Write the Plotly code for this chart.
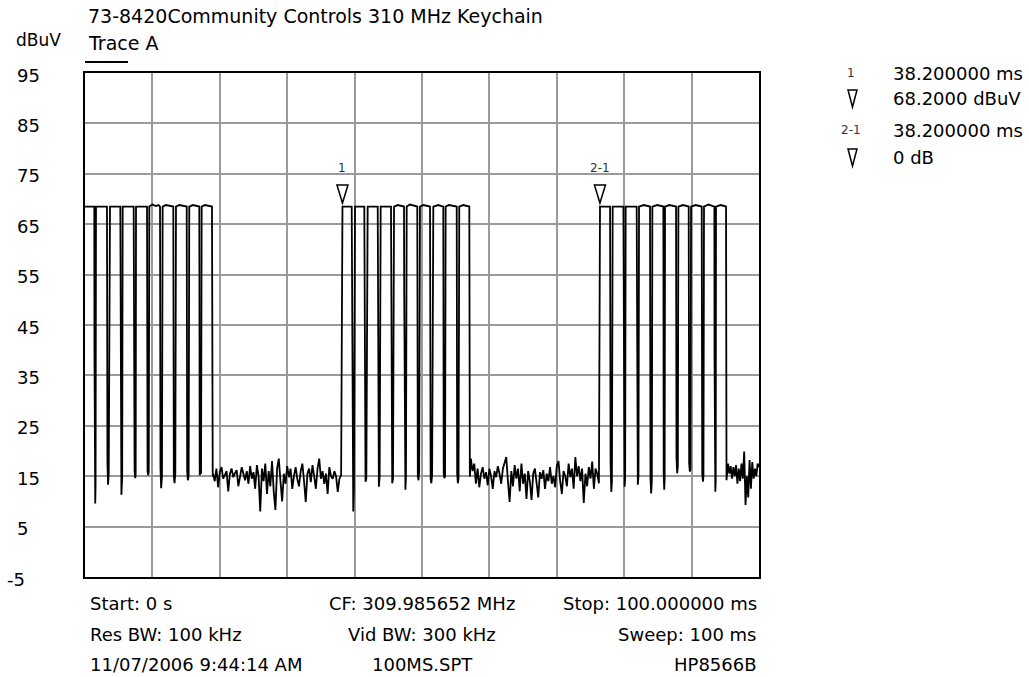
import numpy as np
import plotly.graph_objects as go

# ---------------- data ----------------
title_text = "73-8420Community Controls 310 MHz Keychain"
y_unit = "dBuV"
trace_name = "Trace A"
x_range_ms = [0, 100]
y_range_dbuv = [-5, 95]
y_ticks = [95, 85, 75, 65, 55, 45, 35, 25, 15, 5, -5]

# burst 1 (breakpoints, ms / dBuV)
burst1_ms = [0.00,
             1.38, 1.40, 1.46, 1.52, 1.57, 1.63,
             3.26, 3.33, 3.42, 3.52, 3.71,
             5.24, 5.30, 5.40, 5.52, 5.59,
             7.22, 7.26, 7.36, 7.46, 7.52, 7.57,
             9.20, 9.28, 9.36, 9.46, 9.54, 10.0, 10.5, 10.9,
             11.13, 11.20, 11.30, 11.42, 11.52, 12.0, 12.6,
             13.10, 13.18, 13.28, 13.40, 13.50, 14.0, 14.6,
             15.09, 15.16, 15.26, 15.38, 15.47, 16.0, 16.5,
             16.96, 17.02, 17.12, 17.22, 17.31, 17.8, 18.4,
             18.84, 18.95]
burst1_dbuv = [68.5,
               68.5, 40.4, 13.0, 9.6, 13.5, 68.5,
               68.5, 17.6, 13.3, 15.5, 68.5,
               68.5, 14.5, 11.3, 15.0, 68.5,
               68.5, 20.9, 16.0, 14.6, 15.5, 68.5,
               68.5, 16.0, 15.2, 15.8, 68.5, 68.9, 68.6, 68.8,
               68.5, 16.5, 12.6, 15.0, 68.5, 68.8, 68.6,
               68.5, 15.0, 13.6, 15.5, 68.5, 68.8, 68.6,
               68.5, 16.0, 14.2, 15.0, 68.5, 68.8, 68.6,
               68.5, 15.2, 15.8, 15.5, 68.5, 68.8, 68.7,
               68.5, 14.9]

# noise floor between bursts, one reading every 0.25 ms
noise_step_ms = 0.25
noise1_start_ms = 19.0
noise1_dbuv = [15.5, 14.0, 16.5, 12.8, 15.8, 16.8, 14.5, 15.2, 16.0, 12.0,
               15.5, 16.5, 14.8, 15.6, 16.2, 13.0, 15.0, 16.8, 15.5, 14.2,
               16.0, 13.5, 17.0, 14.5, 15.8, 12.5, 17.2, 15.0, 8.0, 16.5,
               14.0, 17.5, 11.5, 16.0, 13.0, 18.0, 12.0, 8.3, 16.5, 18.5,
               14.0, 10.0, 15.5, 13.5, 17.0, 14.8, 16.5, 12.5, 15.0, 16.8,
               14.5, 13.0, 16.0, 17.5, 14.0, 9.9, 15.5, 16.5, 13.8, 17.2,
               15.0, 12.5, 16.5, 18.5, 14.5, 16.0, 13.5, 15.5, 11.5, 16.8,
               15.0, 14.5, 16.0, 15.0, 11.9, 14.5, 15.2]

burst2_ms = [38.20,
             39.57, 39.70, 39.80, 39.90, 40.06,
             41.44, 41.52, 41.62, 41.74, 41.94,
             43.43, 43.50, 43.60, 43.72, 43.87,
             45.40, 45.48, 45.58, 45.70, 45.85, 46.4,
             47.33, 47.36, 47.44, 47.54, 47.62, 47.73, 48.2, 48.8,
             49.30, 49.38, 49.48, 49.58, 49.70, 50.2, 50.8,
             51.19, 51.28, 51.38, 51.50, 51.68, 52.4,
             53.16, 53.22, 53.32, 53.42, 53.51, 54.0, 54.6,
             55.15, 55.22, 55.32, 55.42, 55.53, 56.1, 56.6,
             57.02, 57.10]
burst2_dbuv = [68.5,
               68.5, 14.0, 8.0, 12.5, 68.5,
               68.5, 15.5, 13.9, 14.5, 68.5,
               68.5, 17.6, 12.9, 15.0, 68.5,
               68.5, 15.0, 13.6, 14.5, 68.5, 68.8,
               68.5, 51.6, 14.0, 12.3, 15.0, 68.5, 68.9, 68.6,
               68.5, 15.0, 14.2, 16.0, 68.5, 68.8, 68.6,
               68.5, 14.5, 13.6, 15.2, 68.5, 68.8,
               68.5, 15.5, 14.6, 15.0, 68.5, 68.8, 68.6,
               68.5, 15.5, 13.6, 14.5, 68.5, 68.8, 68.6,
               68.5, 14.9]

noise2_start_ms = 57.25
noise2_dbuv = [18.5, 16.0, 17.5, 13.5, 16.5, 12.8, 15.5, 16.8, 14.5, 15.8,
               13.2, 16.5, 15.0, 12.5, 16.0, 14.8, 17.0, 15.5, 13.5, 16.5,
               17.5, 18.8, 14.0, 9.9, 16.0, 13.0, 17.2, 14.5, 16.5, 12.0,
               17.5, 13.5, 15.5, 10.5, 16.0, 14.0, 10.3, 15.5, 16.5, 13.0,
               10.8, 15.8, 14.5, 16.2, 12.5, 15.5, 14.0, 16.8, 13.5, 15.0,
               12.8, 17.0, 18.0, 14.0, 11.5, 16.0, 15.0, 13.0, 17.5, 14.8,
               16.5, 12.5, 18.8, 15.0, 17.0, 14.0, 16.5, 9.7, 15.5, 13.0,
               16.8, 14.5, 17.9, 12.5, 16.5, 15.5, 13.6]

burst3_ms = [76.41,
             77.90, 77.98, 78.08, 78.18, 78.29,
             79.88, 79.96, 80.06, 80.14, 80.22,
             81.85, 81.92, 82.02, 82.12, 82.20, 82.9,
             83.83, 83.90, 84.00, 84.10, 84.18, 84.9,
             85.81, 85.86, 85.94, 86.00, 86.06, 86.7,
             87.69, 87.76, 87.86, 87.96, 88.04, 88.7,
             89.57, 89.64, 89.74, 89.84, 89.92, 90.6,
             91.50, 91.58, 91.68, 91.76, 91.84, 92.5,
             93.38, 93.40, 93.46, 93.52, 93.58, 93.62, 94.3,
             95.11, 95.18]
burst3_dbuv = [68.5,
               68.5, 17.5, 11.9, 14.0, 68.5,
               68.5, 15.0, 12.9, 14.5, 68.5,
               68.5, 15.5, 13.3, 15.0, 68.5, 68.8,
               68.5, 14.5, 11.6, 14.0, 68.5, 68.8,
               68.5, 15.5, 12.3, 14.5, 68.5, 68.8,
               68.5, 18.5, 15.6, 17.0, 68.5, 68.8,
               68.5, 17.5, 15.9, 16.5, 68.5, 68.8,
               68.5, 15.5, 13.9, 15.0, 68.5, 68.9,
               68.5, 39.4, 14.5, 11.9, 14.0, 68.5, 68.8,
               68.5, 14.2]

noise3_step_ms = 0.2
noise3_start_ms = 95.4
noise3_dbuv = [17.5, 15.5, 17.0, 14.5, 16.8, 15.0, 17.2, 13.5, 16.5, 14.0,
               17.5, 14.5, 19.9, 9.3, 15.0, 10.8, 18.2, 12.5, 17.8, 14.5,
               16.5, 15.0, 17.5, 16.8]

# markers
marker_labels = ["1", "2-1"]
marker_ms = [38.2, 76.4]
marker_dbuv = [68.2, 68.2]
readout_time = ["38.200000 ms", "38.200000 ms"]
readout_value = ["68.2000 dBuV", "0 dB"]

footer_left = ["Start: 0 s", "Res BW: 100 kHz", "11/07/2006 9:44:14 AM"]
footer_mid = ["CF: 309.985652 MHz", "Vid BW: 300 kHz", "100MS.SPT"]
footer_right = ["Stop: 100.000000 ms", "Sweep: 100 ms", "HP8566B"]

# ---------------- assemble trace ----------------
noise1_ms = list(noise1_start_ms + noise_step_ms * np.arange(len(noise1_dbuv)))
noise2_ms = list(noise2_start_ms + noise_step_ms * np.arange(len(noise2_dbuv)))
noise3_ms = list(noise3_start_ms + noise3_step_ms * np.arange(len(noise3_dbuv)))

t_all = burst1_ms + noise1_ms + burst2_ms + noise2_ms + burst3_ms + noise3_ms
v_all = burst1_dbuv + noise1_dbuv + burst2_dbuv + noise2_dbuv + burst3_dbuv + noise3_dbuv

W, H = 1029, 677
L, R, T, B = 85, 270, 73, 100
PW, PH = W - L - R, H - T - B


def px_x(px):
    return (px - L) / PW


def px_y(py):
    return (H - B - py) / PH


FONT = "DejaVu Sans"

fig = go.Figure()
fig.add_trace(go.Scatter(x=t_all, y=v_all, mode="lines",
                         line=dict(color="black", width=1.8),
                         hoverinfo="skip", showlegend=False))

fig.update_layout(
    width=W, height=H,
    margin=dict(l=L, r=R, t=T, b=B, pad=0),
    paper_bgcolor="white", plot_bgcolor="white",
    font=dict(family=FONT, color="black", size=18),
    showlegend=False,
)
fig.update_xaxes(range=x_range_ms, dtick=10, tick0=0, showgrid=True,
                 gridcolor="#9a9a9a", gridwidth=1.5, zeroline=False,
                 showticklabels=False, ticks="", showline=True, mirror=True,
                 linecolor="black", linewidth=2)
fig.update_yaxes(range=y_range_dbuv, dtick=10, tick0=-5, showgrid=True,
                 gridcolor="#9a9a9a", gridwidth=1.5, zeroline=False,
                 showticklabels=False, ticks="", showline=True, mirror=True,
                 linecolor="black", linewidth=2)

ann = []
# y tick labels (left aligned like the instrument printout)
for v in y_ticks:
    if v < 0:
        ann.append(dict(x=px_x(27), xref="paper", xanchor="right", y=v, yref="y",
                        yshift=-2, text=str(v), showarrow=False, font=dict(size=18)))
    else:
        ann.append(dict(x=px_x(15), xref="paper", xanchor="left", y=v, yref="y",
                        yshift=-2, text=str(v), showarrow=False, font=dict(size=18)))

# header
ann.append(dict(x=px_x(86), y=px_y(16), xref="paper", yref="paper", xanchor="left",
                yanchor="middle", text=title_text, showarrow=False, font=dict(size=19)))
ann.append(dict(x=px_x(14), y=px_y(40), xref="paper", yref="paper", xanchor="left",
                yanchor="middle", text=y_unit, showarrow=False, font=dict(size=17)))
ann.append(dict(x=px_x(86), y=px_y(43), xref="paper", yref="paper", xanchor="left",
                yanchor="middle", text=trace_name, showarrow=False, font=dict(size=19)))

# footer
rows_y = [603, 634, 664]
for i in range(3):
    ann.append(dict(x=px_x(88), y=px_y(rows_y[i]), xref="paper", yref="paper",
                    xanchor="left", yanchor="middle", text=footer_left[i],
                    showarrow=False, font=dict(size=18)))
    ann.append(dict(x=0.5, y=px_y(rows_y[i]), xref="paper", yref="paper",
                    xanchor="center", yanchor="middle", text=footer_mid[i],
                    showarrow=False, font=dict(size=18)))
    ann.append(dict(x=1.0, y=px_y(rows_y[i]), xref="paper", yref="paper",
                    xanchor="right", yanchor="middle", text=footer_right[i],
                    showarrow=False, font=dict(size=18)))

# marker labels on plot
for lab, t, v in zip(marker_labels, marker_ms, marker_dbuv):
    ann.append(dict(x=t, y=v, xref="x", yref="y", text=lab, showarrow=False,
                    yshift=40, font=dict(size=12, color="#333333")))

# readout panel
readout_y = [(73, 98), (130, 157)]
for i, lab in enumerate(marker_labels):
    ya, yb = readout_y[i]
    ann.append(dict(x=px_x(851), y=px_y(ya), xref="paper", yref="paper",
                    xanchor="center", yanchor="middle", text=lab, showarrow=False,
                    font=dict(size=12, color="#333333")))
    ann.append(dict(x=px_x(891), y=px_y(ya), xref="paper", yref="paper",
                    xanchor="left", yanchor="middle", text=readout_time[i],
                    showarrow=False, font=dict(size=18)))
    ann.append(dict(x=px_x(891), y=px_y(yb), xref="paper", yref="paper",
                    xanchor="left", yanchor="middle", text=readout_value[i],
                    showarrow=False, font=dict(size=18)))

fig.update_layout(annotations=ann)

shapes = []
# underline of "Trace A"
shapes.append(dict(type="line", xref="paper", yref="paper", x0=px_x(85), x1=px_x(128),
                   y0=px_y(62), y1=px_y(62), line=dict(color="black", width=2)))
# marker triangles on trace
for t, v in zip(marker_ms, marker_dbuv):
    shapes.append(dict(type="path", xref="x", yref="y", xsizemode="pixel",
                       ysizemode="pixel", xanchor=t, yanchor=v,
                       path="M-5.5,23 L5.5,23 L0,5 Z",
                       line=dict(color="black", width=1.5), fillcolor="white"))
# readout triangles
for i in range(len(marker_labels)):
    ya, yb = readout_y[i]
    shapes.append(dict(type="path", xref="paper", yref="paper", xsizemode="pixel",
                       ysizemode="pixel", xanchor=px_x(852.5), yanchor=px_y(yb + 9),
                       path="M-4.5,17 L4.5,17 L0,0 Z",
                       line=dict(color="black", width=1.5), fillcolor="white"))
fig.update_layout(shapes=shapes)

fig.write_html("out.html", config={"displayModeBar": False},
               post_script="document.body.style.margin='0';document.body.style.overflow='hidden';")
